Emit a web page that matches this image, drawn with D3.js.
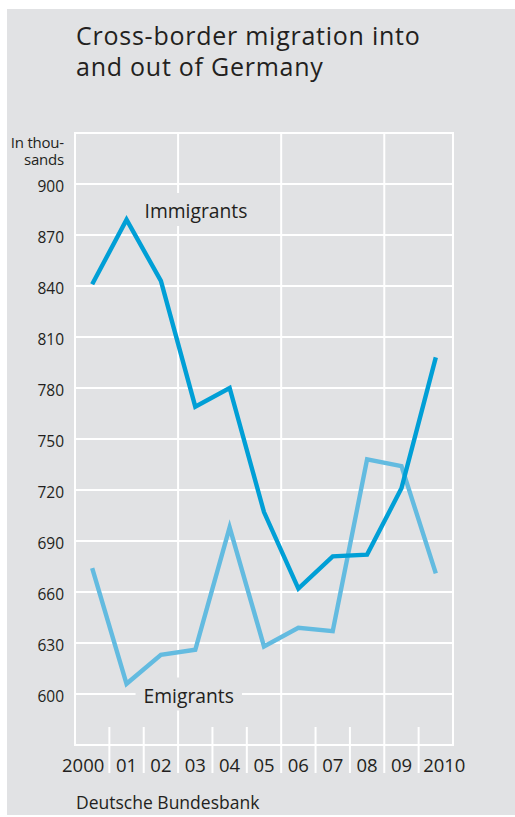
<!DOCTYPE html>
<html>
<head>
<meta charset="utf-8">
<script src="https://cdn.jsdelivr.net/npm/d3@7"></script>
<style>
  html, body { margin: 0; padding: 0; background: #ffffff; }
  svg { display: block; }
  text { font-family: "Open Sans", "Noto Sans", sans-serif; fill: #231f20; }
</style>
</head>
<body>
<svg id="chart" width="515" height="817"></svg>
<script>
const years = ["2000","01","02","03","04","05","06","07","08","09","2010"];
const immigrants = [841, 879, 843, 769, 780, 707, 662, 681, 682, 721, 798];
const emigrants  = [674, 606, 623, 626, 698, 628, 639, 637, 738, 734, 671];
const yTicks = [600, 630, 660, 690, 720, 750, 780, 810, 840, 870, 900];
const yDomain = [570, 930];
const title = ["Cross-border migration into", "and out of Germany"];
const unitLabel = ["In thou-", "sands"];
const source = "Deutsche Bundesbank";

(function () {
const bg = "#e1e2e4";
const svg = d3.select("#chart");

svg.append("rect").attr("x", 7).attr("y", 9).attr("width", 508).attr("height", 806).attr("fill", bg);

const pLeft = 75, pRight = 453, pTop = 133, pBottom = 745;
const x = d3.scaleBand().domain(years).range([pLeft, pRight]).padding(0);
const y = d3.scaleLinear().domain(yDomain).range([pBottom, pTop]);
const bw = x.bandwidth();
const cx = d => x(d) + bw / 2;

// title
svg.append("text").attr("x", 76).attr("y", 45).style("font-size", "25px").style("letter-spacing", "0.75px")
  .selectAll("tspan").data(title).join("tspan")
  .attr("x", 76).attr("dy", (d, i) => i === 0 ? 0 : 31).text(d => d);

const grid = svg.append("g").attr("stroke", "#ffffff").attr("stroke-width", 2).attr("fill", "none");
grid.selectAll("line.h").data(yTicks.concat(yDomain)).join("line")
  .attr("x1", pLeft - 1).attr("x2", pRight + 1)
  .attr("y1", d => y(d)).attr("y2", d => y(d));
grid.selectAll("line.f").data([pLeft, pRight]).join("line")
  .attr("x1", d => d).attr("x2", d => d).attr("y1", pTop).attr("y2", pBottom);
const bounds = years.slice(1).map(d => x(d));
grid.selectAll("line.b").data(bounds).join("line")
  .attr("x1", d => d).attr("x2", d => d)
  .attr("y1", (d, i) => (i + 1) % 3 === 0 ? pTop : pBottom - 18)
  .attr("y2", pBottom + 28);

// y tick labels
svg.append("g").selectAll("text").data(yTicks).join("text")
  .attr("x", 64).attr("y", d => y(d) + 8).attr("text-anchor", "end")
  .style("font-size", "15.5px").text(d => d);

svg.append("text").attr("x", 64).attr("y", 148).attr("text-anchor", "end")
  .style("font-size", "15px").style("letter-spacing", "-0.2px")
  .selectAll("tspan").data(unitLabel).join("tspan")
  .attr("x", 64).attr("dy", (d, i) => i === 0 ? 0 : 17).text(d => d);

// x labels
svg.append("g").selectAll("text").data(years).join("text")
  .attr("x", (d, i) => i === 0 ? x(d) + bw - 5 : (i === years.length - 1 ? x(d) + 4.5 : cx(d)))
  .attr("y", 772)
  .attr("text-anchor", (d, i) => i === 0 ? "end" : (i === years.length - 1 ? "start" : "middle"))
  .style("font-size", "18.5px").text(d => d);

function seriesLabel(txt, px, py) {
  const g = svg.append("g");
  const r = g.append("rect").attr("fill", bg);
  const t = g.append("text").attr("x", px).attr("y", py).style("font-size", "19.3px").text(txt);
  const b = t.node().getBBox();
  r.attr("x", b.x - 8).attr("y", b.y - 4).attr("width", b.width + 16).attr("height", b.height + 6);
}
seriesLabel("Immigrants", cx("01") + 18, y(880));
seriesLabel("Emigrants", cx("01") + 17, y(595));

const line = d3.line().x((d, i) => cx(years[i])).y(d => y(d));
svg.append("path").datum(emigrants).attr("d", line)
  .attr("fill", "none").attr("stroke", "#63bbe0").attr("stroke-width", 4.4).attr("stroke-linejoin", "miter");
svg.append("path").datum(immigrants).attr("d", line)
  .attr("fill", "none").attr("stroke", "#009fd6").attr("stroke-width", 4.4).attr("stroke-linejoin", "miter");

svg.append("text").attr("x", 76).attr("y", 809).style("font-size", "17.5px").text(source);
})();
</script>
</body>
</html>
